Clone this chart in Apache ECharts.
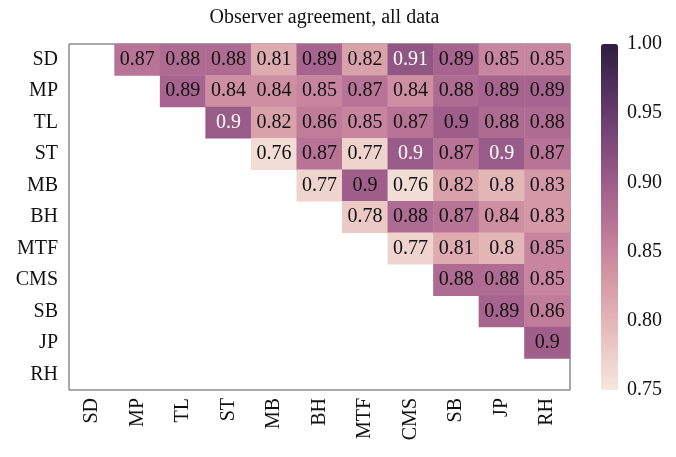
<!DOCTYPE html>
<html>
<head>
<meta charset="utf-8">
<script src="https://cdn.jsdelivr.net/npm/echarts@6/dist/echarts.min.js"></script>
<style>html,body{margin:0;padding:0;background:#fff}#c{width:676px;height:457px}</style>
</head>
<body>
<div id="c"></div>
<script>
var categories = ["SD","MP","TL","ST","MB","BH","MTF","CMS","SB","JP","RH"];
// upper-triangle rows: row i lists values for columns i+1 .. 10
var rowSD  = [0.87,0.88,0.88,0.81,0.89,0.82,0.91,0.89,0.85,0.85];
var rowMP  = [0.89,0.84,0.84,0.85,0.87,0.84,0.88,0.89,0.89];
var rowTL  = [0.903,0.82,0.86,0.85,0.87,0.897,0.88,0.88];
var rowST  = [0.76,0.87,0.77,0.903,0.87,0.903,0.87];
var rowMB  = [0.77,0.897,0.76,0.82,0.80,0.83];
var rowBH  = [0.78,0.88,0.87,0.84,0.83];
var rowMTF = [0.77,0.81,0.80,0.85];
var rowCMS = [0.88,0.88,0.85];
var rowSB  = [0.89,0.86];
var rowJP  = [0.897];
var colorbarTicks = [0.75,0.80,0.85,0.90,0.95,1.00];
var vmin = 0.75, vmax = 1.0;

var rows = [rowSD,rowMP,rowTL,rowST,rowMB,rowBH,rowMTF,rowCMS,rowSB,rowJP];
var data = [];
rows.forEach(function(r, i){
  r.forEach(function(v, k){ data.push([i + 1 + k, i, v]); });
});

// seaborn-like cubehelix colormap (light -> dark)
function cubehelix(x){
  var start=0, rot=0.4, gamma=1, hue=0.8;
  var xg = Math.pow(x, gamma);
  var a = hue * xg * (1 - xg) / 2;
  var phi = 2 * Math.PI * (start / 3 + rot * x);
  function f(p0,p1){ var c = xg + a*(p0*Math.cos(phi)+p1*Math.sin(phi)); return Math.round(Math.max(0,Math.min(1,c))*255); }
  return 'rgb(' + f(-0.14861,1.78277) + ',' + f(-0.29227,-0.90649) + ',' + f(1.97294,0) + ')';
}
var light = 0.92, dark = 0.15, stops = [];
for (var s = 0; s <= 30; s++) stops.push(cubehelix(light + (dark - light) * s / 30));

var font = '"Liberation Serif", "DejaVu Serif", serif';
var styled = data.map(function(d){
  return {value: d, label: {color: d[2] >= 0.9 ? '#fff' : '#111'}};
});
var chart = echarts.init(document.getElementById('c'), null, {renderer:'canvas'});
chart.setOption({
  animation: false,
  backgroundColor: '#fff',
  title: {
    text: 'Observer agreement, all data',
    left: 319.5, textAlign: 'center', top: 3,
    textStyle: {fontFamily: font, fontSize: 20, fontWeight: 'normal', color: '#111'}
  },
  grid: [
    {left: 69, top: 44, width: 501, height: 346, show: true, borderColor: '#555', borderWidth: 1, backgroundColor: '#fff'},
    {left: 601, top: 44, width: 17, height: 346}
  ],
  xAxis: [
    {type: 'category', data: categories, gridIndex: 0,
     axisLine: {show: false}, axisTick: {show: false}, splitLine: {show: false},
     axisLabel: {rotate: 90, margin: 8, fontFamily: font, fontSize: 20, color: '#111'}},
    {type: 'value', gridIndex: 1, show: false, min: 0, max: 1}
  ],
  yAxis: [
    {type: 'category', data: categories, gridIndex: 0, inverse: true,
     axisLine: {show: false}, axisTick: {show: false}, splitLine: {show: false},
     axisLabel: {margin: 11, fontFamily: font, fontSize: 20, color: '#111'}},
    {type: 'value', gridIndex: 1, position: 'right', min: vmin, max: vmax, interval: 0.05,
     axisLine: {show: false}, axisTick: {show: false}, splitLine: {show: false},
     axisLabel: {margin: 9, fontFamily: font, fontSize: 20, color: '#111',
       formatter: function(v){ return colorbarTicks.indexOf(Math.round(v*100)/100) >= 0 ? v.toFixed(2) : ''; }}}
  ],
  visualMap: {
    type: 'continuous', min: vmin, max: vmax, seriesIndex: 0,
    orient: 'vertical', left: 601, top: 44, padding: 0,
    itemWidth: 17, itemHeight: 346, calculable: false, hoverLink: false,
    text: null, showLabel: false,
    inRange: {color: stops}
  },
  series: [
    {type: 'heatmap', xAxisIndex: 0, yAxisIndex: 0, data: styled,
     itemStyle: {borderWidth: 0},
     label: {show: true, fontFamily: font, fontSize: 20,
       formatter: function(p){ return String(parseFloat(p.value[2].toFixed(2))); },
       color: '#111'},
     emphasis: {disabled: true}
    },
    {type: 'line', xAxisIndex: 1, yAxisIndex: 1, data: [], silent: true}
  ]
});
</script>
</body>
</html>
